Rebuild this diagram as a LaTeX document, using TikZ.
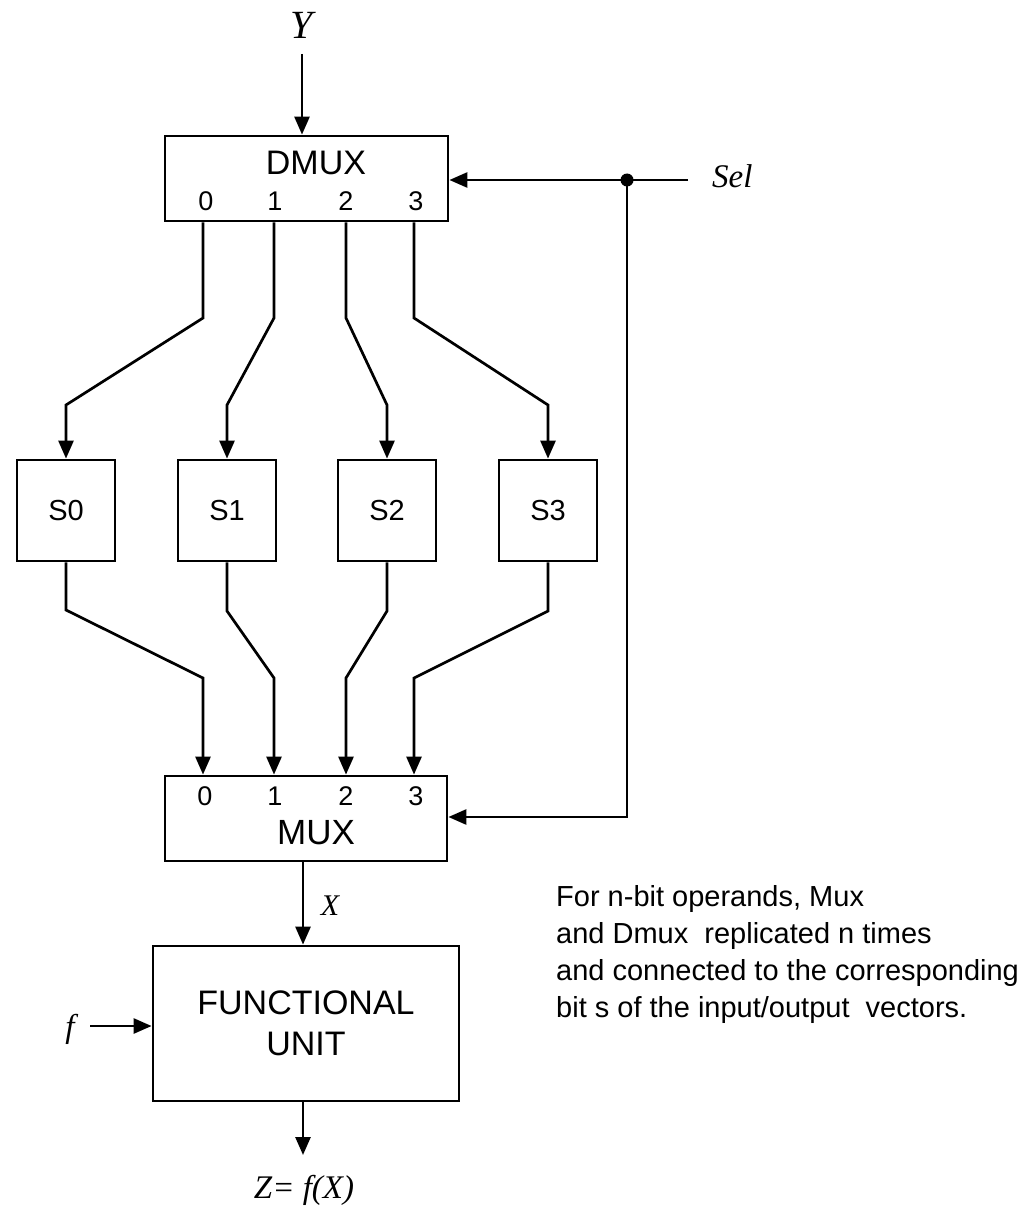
\documentclass[tikz,border=0pt]{standalone}
\usepackage{fontspec}
\setmainfont{Liberation Sans}
\newfontfamily\tms{Liberation Serif}
\usetikzlibrary{arrows.meta}
\begin{document}
\begin{tikzpicture}[x=1pt,y=-1pt,
  box/.style={draw,line width=2.8pt,inner sep=0pt},
  sbox/.style={box,minimum width=98pt,minimum height=101pt,font=\fontsize{29}{34}\selectfont},
  arr/.style={line width=2.7pt,-{Triangle[length=18pt,width=15pt]}},
  lbl/.style={inner sep=0pt,anchor=base},
  dig/.style={lbl,font=\fontsize{27}{30}\selectfont},
  ital/.style={lbl,font=\tms\itshape\fontsize{#1}{#1}\selectfont},
  ]
\useasboundingbox (0,0) rectangle (1026,1209);
% boxes
\node[box,minimum width=283pt,minimum height=85pt] (dmux) at (306.5,178.5) {};
\node[box,minimum width=282pt,minimum height=85pt] (mux) at (306,818.5) {};
\node[box,minimum width=306pt,minimum height=155pt,align=center,
      font=\fontsize{34}{41}\selectfont] (fu) at (306,1023.5) {FUNCTIONAL\\UNIT};
\node[sbox] (s0) at (66,510.5) {S0};
\node[sbox] (s1) at (227,510.5) {S1};
\node[sbox] (s2) at (387,510.5) {S2};
\node[sbox] (s3) at (548,510.5) {S3};
% box labels
\node[lbl,font=\fontsize{34}{38}\selectfont] (dmuxt) at (316,175) {DMUX};
\node[dig] (d0) at (206,211) {0};
\node[dig] (d1) at (275,211) {1};
\node[dig] (d2) at (346,211) {2};
\node[dig] (d3) at (416,211) {3};
\node[lbl,font=\fontsize{35}{38}\selectfont] (muxt) at (316,844) {MUX};
\node[dig] (m0) at (205,805) {0};
\node[dig] (m1) at (275,805) {1};
\node[dig] (m2) at (346,805) {2};
\node[dig] (m3) at (416,805) {3};
% column coordinates
\coordinate (c0) at (203,0);
\coordinate (c1) at (274,0);
\coordinate (c2) at (346,0);
\coordinate (c3) at (414,0);
% Y input
\node[ital=40] (ylab) at (302,39) {Y};
\coordinate (yin) at (302,54);
\draw[arr] (yin) -- (yin |- dmux.north);
% DMUX -> S
\draw[arr] (c0 |- dmux.south) -- (c0 |- 0,318) -- (s0.north |- 0,405) -- (s0.north);
\draw[arr] (c1 |- dmux.south) -- (c1 |- 0,318) -- (s1.north |- 0,405) -- (s1.north);
\draw[arr] (c2 |- dmux.south) -- (c2 |- 0,318) -- (s2.north |- 0,405) -- (s2.north);
\draw[arr] (c3 |- dmux.south) -- (c3 |- 0,318) -- (s3.north |- 0,405) -- (s3.north);
% S -> MUX
\draw[arr] (s0.south) -- (s0.south |- 0,610) -- (c0 |- 0,678) -- (c0 |- mux.north);
\draw[arr] (s1.south) -- (s1.south |- 0,611) -- (c1 |- 0,678) -- (c1 |- mux.north);
\draw[arr] (s2.south) -- (s2.south |- 0,611) -- (c2 |- 0,678) -- (c2 |- mux.north);
\draw[arr] (s3.south) -- (s3.south |- 0,611) -- (c3 |- 0,678) -- (c3 |- mux.north);
% Sel
\node[ital=33,anchor=base west] (sel) at (712,187) {Sel};
\coordinate (selend) at (688,180);
\coordinate (jn) at (627,180);
\coordinate (muxin) at (627,817);
\draw[arr] (selend) -- (selend -| dmux.east);
\draw[arr] (jn) -- (muxin) -- (muxin -| mux.east);
\fill (jn) circle[radius=6.5pt];
% X
\coordinate (xc) at (303,0);
\draw[arr] (xc |- mux.south) -- (xc |- fu.north);
\node[ital=30] (xlab) at (330,915) {X};
% f
\node[ital=33] (flab) at (70,1037) {f};
\coordinate (fin) at (90,1026);
\draw[arr] (fin) -- (fin -| fu.west);
% Z
\coordinate (zout) at (303,1155);
\draw[arr] (xc |- fu.south) -- (zout);
\node[ital=33] (zlab) at (304,1198) {Z= f(X)};
% note
\node[inner sep=0pt,anchor=base west,align=left,font=\fontsize{29}{36.7}\selectfont] (note) at (556,1017)
 {For n-bit operands, Mux\\and Dmux\ \ replicated n times\\and connected to the corresponding\\bit s of the input/output\ \ vectors.};
\end{tikzpicture}
\end{document}
